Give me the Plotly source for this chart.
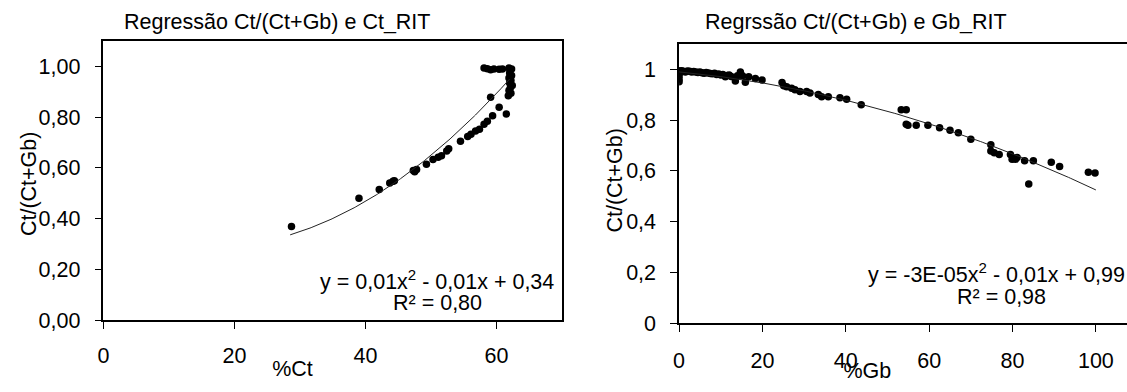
import numpy as np
import plotly.graph_objects as go

W, H = 1127, 392

# ---------------- data ----------------
ct_x = [28.7, 39.0, 42.1, 43.7, 44.2, 44.4, 47.3, 47.8, 47.5, 49.3, 50.3, 51.1, 51.6, 52.4, 52.7,
        54.5, 55.6, 56.1, 56.8, 57.4, 58.1, 58.6, 59.4, 59.1, 60.4, 61.5,
        58.1, 58.6, 59.1, 59.6, 60.4, 60.9, 61.9, 62.3,
        62.0, 62.3, 61.9, 62.2, 62.0, 62.4, 62.1, 61.9, 62.2, 61.8]
ct_y = [0.369, 0.480, 0.515, 0.541, 0.547, 0.549, 0.590, 0.594, 0.585, 0.615, 0.633, 0.642, 0.648, 0.667, 0.676,
        0.705, 0.724, 0.733, 0.746, 0.753, 0.772, 0.784, 0.806, 0.879, 0.839, 0.813,
        0.994, 0.991, 0.987, 0.990, 0.989, 0.990, 0.994, 0.990,
        0.975, 0.965, 0.955, 0.945, 0.935, 0.925, 0.915, 0.905, 0.895, 0.885]
ct_fit = [0.0003116, -0.00986, 0.3639]   # a, b, c of drawn trendline
ct_fit_range = [28.5, 62.0]

gb_x = [0, 0, 0, 0, 0, 0.3, 0.6, 1.0, 1.5, 2.0, 2.5, 3.0, 3.5, 4.0, 4.5, 5.0, 5.5, 6.0, 6.5, 7.0,
        7.5, 8.0, 8.5, 9.0, 9.5, 10.0, 10.5, 11.1, 11.5, 12.0, 12.5, 13.5, 14.0, 14.7, 15.2, 15.9,
        16.7, 18.3, 19.9, 24.7, 25.1, 25.8, 27.0, 27.8, 29.0, 30.6, 31.4,
        33.4, 34.2, 35.8, 38.6, 40.2, 43.7, 53.3, 54.5, 54.5, 54.9, 56.9, 59.7,
        62.5, 65.0, 67.0, 70.0, 74.8, 74.8, 75.6, 76.8, 79.5, 79.9, 80.7, 81.1,
        82.9, 83.9, 85.0, 89.3, 91.3, 98.2, 99.8]
gb_y = [0.995, 0.985, 0.975, 0.962, 0.951, 0.990, 0.995, 0.993, 0.990, 0.994, 0.993, 0.990, 0.992, 0.990,
        0.988, 0.990, 0.987, 0.985, 0.988, 0.986, 0.984, 0.983, 0.985, 0.980, 0.982, 0.978, 0.980, 0.971,
        0.976, 0.978, 0.972, 0.954, 0.975, 0.990, 0.975, 0.949,
        0.971, 0.964, 0.958, 0.948, 0.935, 0.932, 0.926, 0.920, 0.913, 0.913, 0.907,
        0.901, 0.892, 0.892, 0.888, 0.882, 0.861, 0.841, 0.841, 0.784, 0.780, 0.780, 0.780,
        0.770, 0.760, 0.750, 0.725, 0.703, 0.678, 0.672, 0.665, 0.665, 0.646, 0.646, 0.653,
        0.640, 0.548, 0.640, 0.634, 0.617, 0.595, 0.592]
gb_fit = [-3.1e-05, -0.00155, 0.99]
gb_fit_range = [0.0, 100.0]

left_title = "Regressão Ct/(Ct+Gb) e Ct_RIT"
right_title = "Regrssão Ct/(Ct+Gb) e Gb_RIT"
y_title = "Ct/(Ct+Gb)"
x_titles = ["%Ct", "%Gb"]
left_eq = ["y = 0,01x<sup>2</sup> - 0,01x + 0,34", "R² = 0,80"]
right_eq = ["y = -3E-05x<sup>2</sup> - 0,01x + 0,99", "R² = 0,98"]

FONT = "Liberation Sans, Arial, sans-serif"
FS = 21.5


def px(x):
    return x / W


def py(y):
    return 1 - y / H


def curve(coef, rng):
    xs = np.linspace(rng[0], rng[1], 200)
    return xs, coef[0] * xs ** 2 + coef[1] * xs + coef[2]


fig = go.Figure()
fig.add_trace(go.Scatter(x=ct_x, y=ct_y, mode="markers", xaxis="x", yaxis="y",
                         marker=dict(color="black", size=7.5), showlegend=False))
cx, cy = curve(ct_fit, ct_fit_range)
fig.add_trace(go.Scatter(x=cx, y=cy, mode="lines", xaxis="x", yaxis="y",
                         line=dict(color="#222", width=1), showlegend=False))
fig.add_trace(go.Scatter(x=gb_x, y=gb_y, mode="markers", xaxis="x2", yaxis="y2",
                         marker=dict(color="black", size=7.5), showlegend=False))
gx, gy = curve(gb_fit, gb_fit_range)
fig.add_trace(go.Scatter(x=gx, y=gy, mode="lines", xaxis="x2", yaxis="y2",
                         line=dict(color="#222", width=1), showlegend=False))

# x-axis titles placed on an invisible full-page pixel axis
fig.add_trace(go.Scatter(x=[288, 866], y=[383, 385], mode="text", text=x_titles,
                         textposition="middle center", xaxis="x3", yaxis="y3", cliponaxis=False,
                         textfont=dict(family=FONT, size=FS, color="black"),
                         showlegend=False, hoverinfo="skip"))

axis_common = dict(showgrid=False, zeroline=False, showline=True, linecolor="black", linewidth=1.5,
                   ticks="outside", ticklen=7, tickcolor="black", tickwidth=1,
                   tickfont=dict(family=FONT, size=FS, color="black"))

fig.update_layout(
    width=W, height=H, margin=dict(l=0, r=0, t=0, b=0),
    paper_bgcolor="white", plot_bgcolor="rgba(0,0,0,0)",
    separators=",.",
    font=dict(family=FONT, size=FS, color="black"),
    xaxis=dict(domain=[px(98), px(559)], range=[0, 70], tickvals=[0, 20, 40, 60],
               mirror=True, anchor="y", ticklabelstandoff=8, **axis_common),
    yaxis=dict(domain=[py(331), py(42.6)], range=[0, 1.1], tickvals=[0, 0.2, 0.4, 0.6, 0.8, 1.0],
               tickformat=".2f", mirror=True, anchor="x", ticklabelstandoff=10, **axis_common),
    xaxis2=dict(domain=[px(676.7), 1.0], range=[0, (W - 676.7) / 4.19], tickvals=[0, 20, 40, 60, 80, 100],
                mirror=True, anchor="y2", ticklabelstandoff=10, **axis_common),
    yaxis2=dict(domain=[py(334.3), py(45.5)], range=[0, 1.1], tickvals=[0, 0.2, 0.4, 0.6, 0.8, 1.0],
                mirror=False, anchor="x2", ticklabelstandoff=10, **axis_common),
    xaxis3=dict(domain=[0, 1], range=[0, W], visible=False, fixedrange=True, anchor="y3"),
    yaxis3=dict(domain=[0, 1], range=[H, 0], visible=False, fixedrange=True, anchor="x3"),
)

ann = []


def text(t, x, y, angle=0):
    ann.append(dict(text=t, x=px(x), y=py(y), xref="paper", yref="paper", showarrow=False,
                    xanchor="center", yanchor="middle", textangle=angle,
                    font=dict(family=FONT, size=FS, color="black")))


text(left_title, 272, 23)
text(right_title, 855, 23)
text(y_title, 22.5, 190, -90)
text(y_title, 612, 186, -90)
text(left_eq[0], 433, 290)
text(left_eq[1], 434, 313)
text(right_eq[0], 996, 282)
text(right_eq[1], 1001, 307)
fig.update_layout(annotations=ann)

fig.write_html("out.html")
